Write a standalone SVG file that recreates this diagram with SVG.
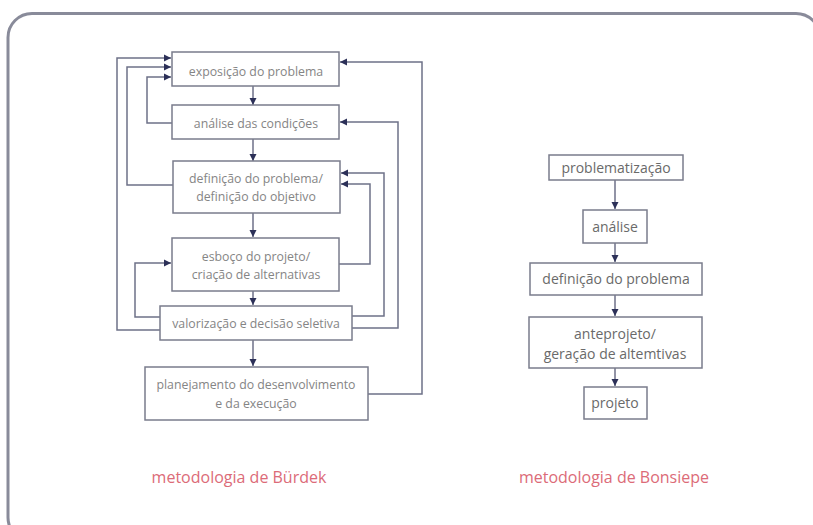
<svg xmlns="http://www.w3.org/2000/svg" width="813" height="525" viewBox="0 0 813 525">
<style>
.box{fill:#fff;stroke:#7a7c8c;stroke-width:1.5}
.ln{fill:none;stroke:#6e7188;stroke-width:1.5}
.t{font-family:"Open Sans","Liberation Sans",sans-serif;font-size:12.3px;fill:#858585;text-anchor:middle}
.tr{font-family:"Open Sans","Liberation Sans",sans-serif;font-size:14px;fill:#6a6a6a;text-anchor:middle}
.cap{font-family:"Open Sans","Liberation Sans",sans-serif;font-size:16px;fill:#dc6b78;text-anchor:middle}
</style>
<defs>
<marker id="ah" markerWidth="8" markerHeight="8" refX="7" refY="4" orient="auto" markerUnits="userSpaceOnUse">
<path d="M0,0.5 L7,4 L0,7.5 Z" fill="#2c3058"/>
</marker>
</defs>
<rect width="813" height="525" fill="#fff"/>
<rect x="8" y="13.5" width="812" height="528" rx="24" fill="none" stroke="#898b9a" stroke-width="3"/>

<g id="connectors">
<line class="ln" x1="253" y1="86" x2="253" y2="105" marker-end="url(#ah)"/>
<line class="ln" x1="253" y1="139" x2="253" y2="161" marker-end="url(#ah)"/>
<line class="ln" x1="253" y1="213" x2="253" y2="237" marker-end="url(#ah)"/>
<line class="ln" x1="253" y1="291" x2="253" y2="305" marker-end="url(#ah)"/>
<line class="ln" x1="253" y1="340" x2="253" y2="366" marker-end="url(#ah)"/>
<polyline class="ln" points="160,330 117,330 117,58 171,58" marker-end="url(#ah)"/>
<polyline class="ln" points="173,185 127,185 127,67 171,67" marker-end="url(#ah)"/>
<polyline class="ln" points="172,123 147,123 147,77 171,77" marker-end="url(#ah)"/>
<polyline class="ln" points="160,317 135,317 135,263 171,263" marker-end="url(#ah)"/>
<polyline class="ln" points="368,394 422,394 422,62 340,62" marker-end="url(#ah)"/>
<polyline class="ln" points="352,328 398,328 398,122 340,122" marker-end="url(#ah)"/>
<polyline class="ln" points="352,316 384,316 384,173 341,173" marker-end="url(#ah)"/>
<polyline class="ln" points="339,264 370,264 370,184 341,184" marker-end="url(#ah)"/>
<line class="ln" x1="615" y1="180" x2="615" y2="209" marker-end="url(#ah)"/>
<line class="ln" x1="615" y1="243" x2="615" y2="262" marker-end="url(#ah)"/>
<line class="ln" x1="615" y1="295" x2="615" y2="316" marker-end="url(#ah)"/>
<line class="ln" x1="615" y1="368" x2="615" y2="386" marker-end="url(#ah)"/>
</g>

<g id="n1"><rect class="box" x="172" y="52" width="167" height="34"/><text class="t" x="256" y="76">exposição do problema</text></g>
<g id="n2"><rect class="box" x="172" y="105" width="167" height="34"/><text class="t" x="256" y="128">análise das condições</text></g>
<g id="n3"><rect class="box" x="173" y="161" width="167" height="52"/><text class="t" x="256" y="183">definição do problema/</text><text class="t" x="256" y="201">definição do objetivo</text></g>
<g id="n4"><rect class="box" x="172" y="238" width="167" height="53"/><text class="t" x="256" y="261">esboço do projeto/</text><text class="t" x="256" y="279">criação de alternativas</text></g>
<g id="n5"><rect class="box" x="160" y="306" width="192" height="34"/><text class="t" x="256" y="328">valorização e decisão seletiva</text></g>
<g id="n6"><rect class="box" x="145" y="367" width="223" height="53"/><text class="t" x="256" y="389">planejamento do desenvolvimento</text><text class="t" x="256" y="408">e da execução</text></g>

<g id="m1"><rect class="box" x="549" y="155" width="134" height="25"/><text class="tr" x="616" y="173">problematização</text></g>
<g id="m2"><rect class="box" x="583" y="210" width="64" height="33"/><text class="tr" x="615" y="232">análise</text></g>
<g id="m3"><rect class="box" x="530" y="263" width="172" height="32"/><text class="tr" x="616" y="284">definição do problema</text></g>
<g id="m4"><rect class="box" x="529" y="317" width="173" height="51"/><text class="tr" x="615" y="339">anteprojeto/</text><text class="tr" x="615" y="359">geração de altemtivas</text></g>
<g id="m5"><rect class="box" x="584" y="387" width="63" height="32"/><text class="tr" x="615" y="408">projeto</text></g>

<text class="cap" x="239" y="483">metodologia de Bürdek</text>
<text class="cap" x="614" y="483">metodologia de Bonsiepe</text>
</svg>
